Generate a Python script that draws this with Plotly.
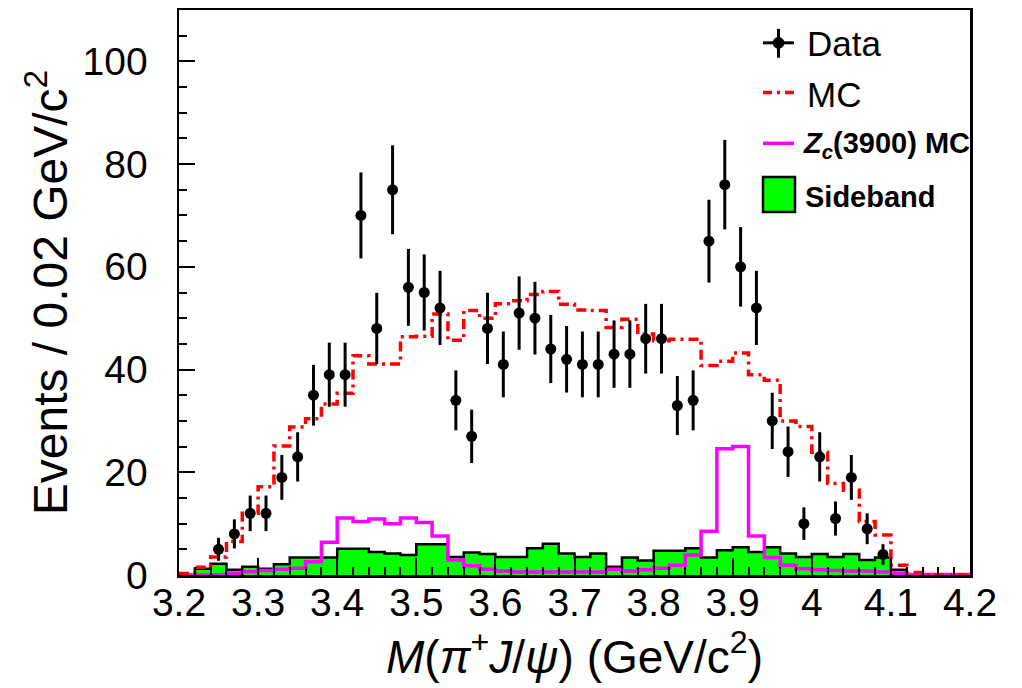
import numpy as np
import plotly.graph_objects as go

# ---------------- data ----------------
bin_edges = np.round(np.arange(3.20, 4.2001, 0.02), 2)   # 50 bins of 0.02 GeV/c^2
bin_centers = np.round(bin_edges[:-1] + 0.01, 3)

x_tickvals = [3.2, 3.3, 3.4, 3.5, 3.6, 3.7, 3.8, 3.9, 4.0, 4.1, 4.2]
x_ticktext = ["3.2", "3.3", "3.4", "3.5", "3.6", "3.7", "3.8", "3.9", "4", "4.1", "4.2"]
y_tickvals = [0, 20, 40, 60, 80, 100]
y_ticktext = ["0", "20", "40", "60", "80", "100"]

# Data points (bins 3.24-3.26 ... 4.08-4.10)
data_first_bin = 2
data_counts = [5, 8, 12, 12, 19, 23, 35, 39, 39, 70, 48, 75, 56, 55, 52, 34, 27,
               48, 41, 51, 50, 44, 42, 41, 41, 43, 43, 46, 46, 33, 34, 65, 76, 60,
               52, 30, 24, 10, 23, 11, 19, 9, 4]

# MC (red dash-dot histogram)
mc_values = [0.3, 1.5, 3.5, 6.5, 12.0, 17.2, 25.1, 28.8, 30.4, 33.3,
             35.4, 42.7, 41.1, 41.1, 46.4, 46.5, 50.8, 45.7, 51.5, 50.0,
             52.8, 53.4, 54.6, 55.2, 52.7, 51.6, 51.5, 48.2, 49.8, 46.9,
             45.6, 45.9, 45.9, 40.8, 41.6, 43.2, 39.0, 37.9, 30.0, 28.9,
             23.9, 17.8, 16.5, 10.4, 7.8, 1.9, 0.5, 0.0, 0.0, 0.0]

# Zc(3900) MC (magenta histogram)
zc_values = [0.0, 0.0, 0.0, 0.3, 0.7, 0.9, 1.1, 1.3, 2.6, 6.4,
             11.1, 10.4, 10.9, 10.0, 11.1, 10.2, 7.6, 2.9, 1.8, 1.1,
             0.8, 0.6, 0.6, 0.6, 0.6, 0.6, 0.6, 1.1, 0.8, 1.0,
             1.3, 1.9, 3.9, 8.5, 24.6, 25.0, 7.6, 3.4, 1.9, 1.2,
             1.0, 0.9, 0.8, 0.8, 0.6, 0.3, 0.1, 0.1, 0.1, 0.1]

# Sideband (green filled histogram)
sb_values = [0.0, 1.2, 2.2, 1.0, 1.6, 1.2, 2.1, 3.4, 3.4, 3.4,
             5.1, 5.1, 4.5, 4.2, 3.9, 6.0, 6.0, 3.5, 4.4, 4.1,
             3.5, 3.5, 5.2, 6.1, 4.2, 3.5, 4.2, 1.6, 3.4, 2.8,
             4.7, 4.7, 5.2, 3.4, 4.8, 5.4, 4.5, 5.4, 4.2, 3.5,
             4.1, 3.5, 4.1, 2.9, 3.4, 1.0, 0.0, 0.0, 0.0, 0.0]


def step_xy(values):
    xs = list(bin_edges[:-1]) + [bin_edges[-1]]
    ys = list(values) + [values[-1]]
    return xs, ys


data_x = bin_centers[data_first_bin:data_first_bin + len(data_counts)]
data_err = np.sqrt(np.array(data_counts, dtype=float))

fig = go.Figure()

sx, sy = step_xy(sb_values)
fig.add_trace(go.Scatter(x=sx, y=sy, mode="lines", line_shape="hv",
                         line=dict(color="black", width=2.5),
                         fill="tozeroy", fillcolor="#00ff00", name="Sideband"))

zx, zy = step_xy(zc_values)
fig.add_trace(go.Scatter(x=zx, y=zy, mode="lines", line_shape="hv",
                         line=dict(color="#ff00ff", width=3.5), name="Zc(3900) MC"))

mx, my = step_xy(mc_values)
fig.add_trace(go.Scatter(x=mx, y=my, mode="lines", line_shape="hv",
                         line=dict(color="#ff0000", width=3.5, dash="10px,5px,3px,5px"),
                         name="MC"))

fig.add_trace(go.Scatter(x=data_x, y=data_counts, mode="markers",
                         marker=dict(color="black", size=11),
                         error_y=dict(type="data", array=data_err, visible=True,
                                      color="black", thickness=3, width=0),
                         name="Data"))

# ---------------- layout ----------------
L, R, T, B = 179, 970, 7, 575
W, H = 1022, 688


def px(xp):
    return (xp - L) / (R - L)


def py(yp):
    return (B - yp) / (B - T)


FONT = "Liberation Sans, Arial, Helvetica, sans-serif"

fig.update_layout(
    width=W, height=H,
    margin=dict(l=L, r=W - R, t=T, b=H - B),
    plot_bgcolor="white", paper_bgcolor="white",
    showlegend=False,
    font=dict(family=FONT, color="black"),
    xaxis=dict(
        range=[3.2, 4.2], tickvals=x_tickvals, ticktext=x_ticktext,
        ticks="inside", ticklen=17, tickwidth=2, tickcolor="black",
        minor=dict(tick0=3.2, dtick=0.02, ticks="inside", ticklen=8,
                   tickwidth=2, tickcolor="black"),
        showline=True, linewidth=2.5, linecolor="black", mirror=True,
        showgrid=False, zeroline=False,
        tickfont=dict(size=39, family=FONT, color="black"),
        ticklabelstandoff=-8,
        title=dict(text="<i>M</i>(<i>π</i><sup>+</sup><i>J</i>/<i>ψ</i>) (GeV/c<sup>2</sup>)",
                   font=dict(size=46, family=FONT, color="black"), standoff=0),
    ),
    yaxis=dict(
        range=[0, 110], tickvals=y_tickvals, ticktext=y_ticktext,
        ticks="inside", ticklen=16, tickwidth=2, tickcolor="black",
        minor=dict(tick0=0, dtick=5, ticks="inside", ticklen=8,
                   tickwidth=2, tickcolor="black"),
        showline=True, linewidth=2.5, linecolor="black", mirror=True,
        showgrid=False, zeroline=False,
        tickfont=dict(size=39, family=FONT, color="black"),
        ticklabelstandoff=21,
        title=dict(text="Events / 0.02 GeV/c<sup>2</sup>",
                   font=dict(size=48, family=FONT, color="black"), standoff=0),
    ),
)

# ---------------- manual legend (ROOT style) ----------------
shapes = []
# Data symbol
shapes.append(dict(type="line", xref="paper", yref="paper",
                   x0=px(763), x1=px(794), y0=py(40), y1=py(40),
                   line=dict(color="black", width=3)))
shapes.append(dict(type="line", xref="paper", yref="paper",
                   x0=px(778.5), x1=px(778.5), y0=py(26), y1=py(55),
                   line=dict(color="black", width=3)))
shapes.append(dict(type="circle", xref="paper", yref="paper",
                   x0=px(773), x1=px(784), y0=py(45.5), y1=py(34.5),
                   fillcolor="black", line=dict(color="black", width=1)))
# MC symbol
shapes.append(dict(type="line", xref="paper", yref="paper",
                   x0=px(763), x1=px(794), y0=py(90), y1=py(90),
                   line=dict(color="#ff0000", width=3.5, dash="9px,5px,3px,5px")))
# Zc symbol
shapes.append(dict(type="line", xref="paper", yref="paper",
                   x0=px(763), x1=px(794), y0=py(141), y1=py(141),
                   line=dict(color="#ff00ff", width=3.5)))
# Sideband symbol
shapes.append(dict(type="rect", xref="paper", yref="paper",
                   x0=px(763), x1=px(795), y0=py(210), y1=py(175),
                   fillcolor="#00ff00", line=dict(color="black", width=2.5)))
fig.update_layout(shapes=shapes)

legend_entries = [
    ("Data", 805, 41, 35),
    ("MC", 805, 92, 35),
    ("<b><i>Z<sub>c</sub></i>(3900) MC</b>", 801, 143, 29),
    ("<b>Sideband</b>", 803, 195, 29),
]
for txt, xp, yp, fs in legend_entries:
    fig.add_annotation(text=txt, xref="paper", yref="paper", x=px(xp), y=py(yp),
                       xanchor="left", yanchor="middle", showarrow=False,
                       font=dict(size=fs, family=FONT, color="black"))

fig.write_html("out.html",
               config={"displayModeBar": False, "staticPlot": True},
               post_script="document.body.style.margin='0px';document.body.style.overflow='hidden';")
